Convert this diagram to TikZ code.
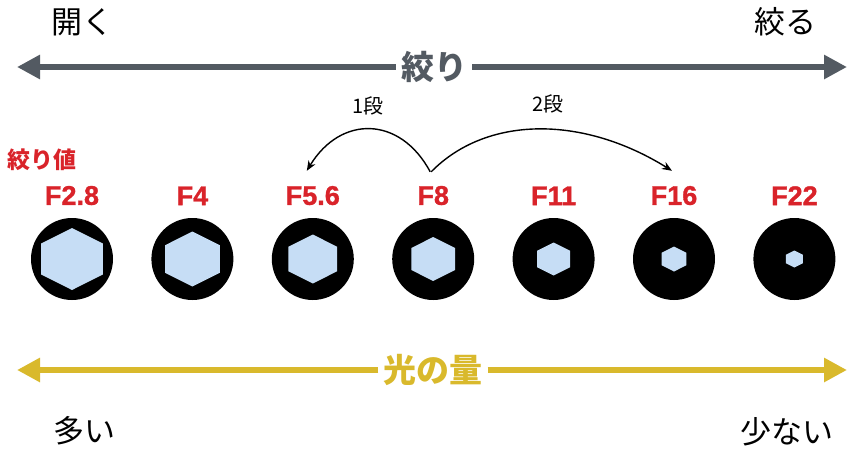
\documentclass[tikz,border=0pt]{standalone}
\usepackage{fontspec}
\setmainfont{Liberation Sans}
\newfontfamily\jpfont{Noto Sans CJK JP}
\newfontfamily\numfont{Liberation Sans Bold}[FakeBold=1.2]
\usetikzlibrary{arrows.meta,positioning}
\definecolor{axisgray}{HTML}{535A62}
\definecolor{fred}{HTML}{D9232A}
\definecolor{lightyel}{HTML}{D9B92C}
\definecolor{hexblue}{HTML}{C6DDF5}

\begin{document}
\begin{tikzpicture}[x=1pt,y=-1pt,
  iris/.style={circle,fill=black,minimum size=82pt,inner sep=0pt},
  hexfill/.style={fill=hexblue},
  flabel/.style={text=fred,font=\numfont\fontsize{27}{27}\selectfont,inner sep=0pt},
  endword/.style={font=\jpfont\fontsize{31}{31}\selectfont,inner sep=0pt},
  axislabel/.style={font=\jpfont\fontsize{33}{33}\selectfont\bfseries,inner sep=5pt},
  jumplabel/.style={font=\jpfont\fontsize{20}{20}\selectfont,inner sep=0pt},
  garrow/.style={-{Triangle[length=23pt,width=23pt]},draw=axisgray,line width=6pt},
  yarrow/.style={-{Triangle[length=23pt,width=23pt]},draw=lightyel,line width=6pt},
  jump/.style={-{Stealth[length=10pt,width=8pt]},draw=black,line width=1.4pt}
]
\useasboundingbox (0,0) rectangle (849,453);

% top axis
\node[endword] (open) at (82,22) {開く};
\node[endword] (close) at (785,22) {絞る};
\node[axislabel,text=axisgray] (aperture) at (434,67) {絞り};
\coordinate (gL) at (17,67);
\coordinate (gR) at (847,67);
\draw[garrow] (aperture) -- (gL);
\draw[garrow] (aperture) -- (gR);

% irises
\node[iris] (c1) at (72,259) {};
\foreach \i [count=\j from 2] in {1,...,6}
  \node[iris,right=38pt of c\i] (c\j) {};
\foreach \i/\r in {1/31,2/27.5,3/24.5,4/22,5/16.5,6/12.5,7/8.5}
  \fill[hexfill,shift={(c\i.center)},xscale=1.15]
    (90:\r) -- (30:\r) -- (-30:\r) -- (-90:\r) -- (-150:\r) -- (150:\r) -- cycle;

% f-numbers
\foreach \i/\t in {1/F2.8,2/F4,3/F5.6,4/F8,5/F11,6/F16,7/F22}
  \node[flabel,above=12.5pt of c\i] (f\i) {\t};
\node[font=\jpfont\fontsize{23}{23}\selectfont\bfseries,text=fred,inner sep=0pt] (fvalue) at (42,160) {絞り値};

% stops
\draw[jump] ([xshift=-3pt,yshift=14pt]f4.north) .. controls +(-30,-56) and +(34,-56) .. ([xshift=-6pt,yshift=15pt]f3.north);
\draw[jump] ([xshift=-2pt,yshift=14pt]f4.north) .. controls +(55,-56) and +(-90,-56) .. ([xshift=-2pt,yshift=15pt]f6.north);
\node[jumplabel] (one) at (368,106) {1段};
\node[jumplabel] (two) at (548,104) {2段};

% bottom axis
\node[axislabel,text=lightyel] (light) at (433,370) {光の量};
\coordinate (yL) at (17,370);
\coordinate (yR) at (847,370);
\draw[yarrow] (light) -- (yL);
\draw[yarrow] (light) -- (yR);
\node[endword] (many) at (84,431) {多い};
\node[endword] (few) at (787,432) {少ない};
\end{tikzpicture}
\end{document}
